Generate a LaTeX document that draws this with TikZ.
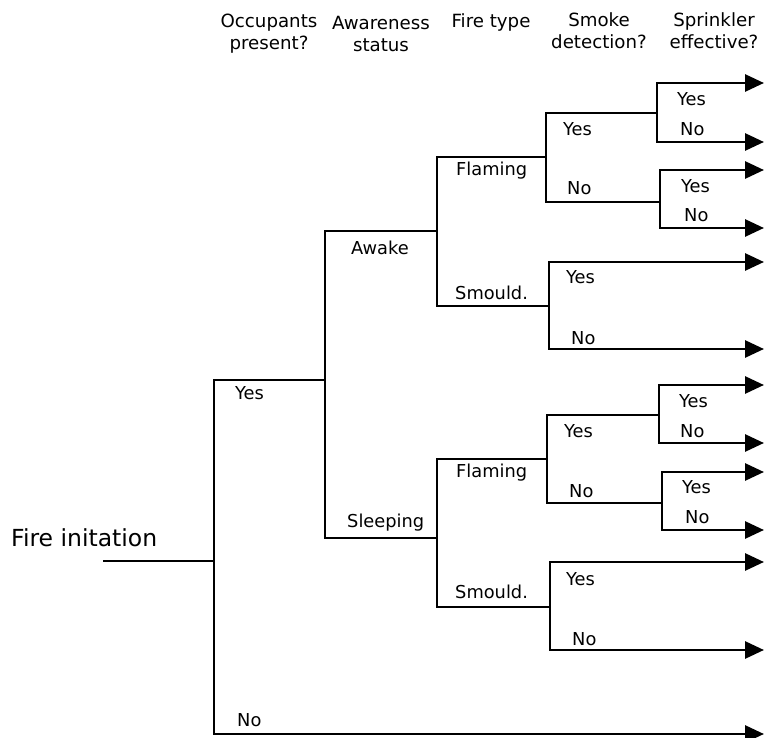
\documentclass[tikz,border=0pt]{standalone}
\usepackage{fontspec}
\setmainfont{DejaVu Sans}
\usetikzlibrary{arrows.meta}
\begin{document}
\begin{tikzpicture}[x=1pt,y=-1pt,
  branch/.style={line width=2.9pt},
  outcome/.style={branch,-{Triangle[length=19pt,width=17pt]}},
  lbl/.style={anchor=west,inner sep=0pt,font=\fontsize{17.8}{21}\selectfont},
  head/.style={align=center,inner sep=0pt,font=\fontsize{18.2}{22}\selectfont}]
\useasboundingbox (0,0) rectangle (764,738);

% column headings
\node[head] (hOcc)  at (269,33.5) {Occupants\\present?};
\node[head] (hAw)   at (381,33.5) {Awareness\\status};
\node[head] (hFire) at (491,22)   {Fire type};
\node[head] (hSmk)  at (599,30.5) {Smoke\\detection?};
\node[head] (hSpr)  at (714,30.5) {Sprinkler\\effective?};

% junctions of the tree
\coordinate (start) at (103,561);
\coordinate (occ)   at (214,561);
\coordinate (aw)    at (325,380);
\coordinate (noOcc) at (764,734);
\coordinate (fA)    at (437,231);
\coordinate (fS)    at (437,538);
% awake branch
\coordinate (sAF)   at (546,157);
\coordinate (sAS)   at (549,306);
\coordinate (pAFY)  at (657,113);
\coordinate (pAFN)  at (660,202);
% sleeping branch
\coordinate (sSF)   at (547,459);
\coordinate (sSS)   at (550,607);
\coordinate (pSFY)  at (659,415);
\coordinate (pSFN)  at (662,503);
% end points
\coordinate (e1)  at (764,83);
\coordinate (e2)  at (764,142);
\coordinate (e3)  at (764,170);
\coordinate (e4)  at (764,228);
\coordinate (e5)  at (764,262);
\coordinate (e6)  at (764,349);
\coordinate (e7)  at (764,385);
\coordinate (e8)  at (764,443);
\coordinate (e9)  at (764,472);
\coordinate (e10) at (764,530);
\coordinate (e11) at (764,562);
\coordinate (e12) at (764,650);

% branches
\draw[branch] (start) -- (occ);
\draw[branch] (occ) |- (aw);
\draw[outcome] (occ) |- (noOcc);
\draw[branch] (aw) |- (fA);
\draw[branch] (aw) |- (fS);
\draw[branch] (fA) |- (sAF);
\draw[branch] (fA) |- (sAS);
\draw[branch] (fS) |- (sSF);
\draw[branch] (fS) |- (sSS);
\draw[branch] (sAF) |- (pAFY);
\draw[branch] (sAF) |- (pAFN);
\draw[branch] (sSF) |- (pSFY);
\draw[branch] (sSF) |- (pSFN);
\draw[outcome] (pAFY) |- (e1);
\draw[outcome] (pAFY) |- (e2);
\draw[outcome] (pAFN) |- (e3);
\draw[outcome] (pAFN) |- (e4);
\draw[outcome] (sAS) |- (e5);
\draw[outcome] (sAS) |- (e6);
\draw[outcome] (pSFY) |- (e7);
\draw[outcome] (pSFY) |- (e8);
\draw[outcome] (pSFN) |- (e9);
\draw[outcome] (pSFN) |- (e10);
\draw[outcome] (sSS) |- (e11);
\draw[outcome] (sSS) |- (e12);

% labels
\node[anchor=west,inner sep=0pt,font=\fontsize{23.5}{28}\selectfont] (tStart) at (11,538) {Fire initation};
\node[lbl] (tOccY) at (235,393) {Yes};
\node[lbl] (tOccN) at (237,720) {No};
\node[lbl] (tAwk)  at (351,248) {Awake};
\node[lbl] (tSlp)  at (347,523) {Sleeping};
\node[lbl] (tAF)   at (456,171) {Flaming};
\node[lbl] (tAS)   at (455,293) {Smould.};
\node[lbl] (tSF)   at (456,473) {Flaming};
\node[lbl] (tSS)   at (455,592) {Smould.};
\node[lbl] (t1)  at (563,129) {Yes};
\node[lbl] (t2)  at (567,188) {No};
\node[lbl] (t3)  at (566,277) {Yes};
\node[lbl] (t4)  at (571,338) {No};
\node[lbl] (t5)  at (564,431) {Yes};
\node[lbl] (t6)  at (569,491) {No};
\node[lbl] (t7)  at (566,579) {Yes};
\node[lbl] (t8)  at (572,639) {No};
\node[lbl] (t9)  at (677,99)  {Yes};
\node[lbl] (t10) at (680,129) {No};
\node[lbl] (t11) at (681,186) {Yes};
\node[lbl] (t12) at (684,215) {No};
\node[lbl] (t13) at (679,401) {Yes};
\node[lbl] (t14) at (680,431) {No};
\node[lbl] (t15) at (682,487) {Yes};
\node[lbl] (t16) at (685,517) {No};
\end{tikzpicture}
\end{document}
